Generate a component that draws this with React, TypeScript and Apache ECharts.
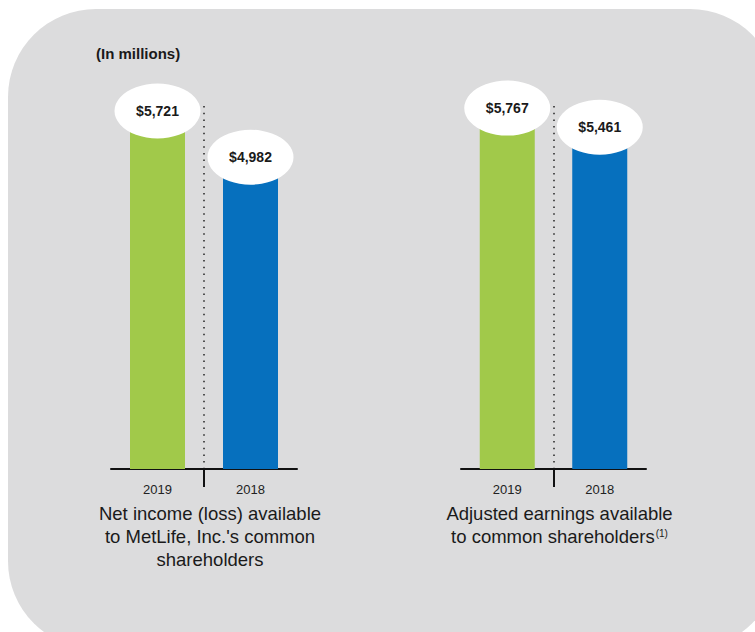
import React, { useEffect, useRef } from 'react';
import * as echarts from 'echarts';

const years = ['2019', '2018'];
const netIncome = [5721, 4982];
const adjustedEarnings = [5767, 5461];
const barColors = ['#a1c94a', '#0670be'];
const leftTitle = "Net income (loss) available\nto MetLife, Inc.'s common\nshareholders";
const rightTitle = 'Adjusted earnings available\nto common shareholders{sup|(1)}';
const unitNote = '(In millions)';
const valueMax = 5800;

const font = "'Liberation Sans', Arial, Helvetica, sans-serif";

function catAxis(gridIndex: number, name: string) {
  return {
    type: 'category',
    gridIndex,
    data: years,
    position: 'bottom',
    axisLine: { show: true, onZero: false, lineStyle: { color: '#111', width: 2 } },
    axisTick: { show: false },
    axisLabel: { fontSize: 13, color: '#222', margin: 14, fontFamily: font },
    splitLine: { show: false },
    name,
    nameLocation: 'middle',
    nameGap: 33,
    nameTextStyle: {
      fontSize: 18.5,
      lineHeight: 23,
      color: '#1a1a1a',
      fontFamily: font,
      padding: [0, 0, 0, 12],
      rich: {
        sup: { fontSize: 10, lineHeight: 23, verticalAlign: 'top', padding: [3, 0, 0, 1], color: '#1a1a1a', fontFamily: font },
      },
    },
  };
}

function sepAxis(gridIndex: number) {
  return {
    type: 'value',
    gridIndex,
    min: 0,
    max: 2,
    position: 'bottom',
    axisLine: { show: false, onZero: false },
    axisLabel: { show: false },
    axisTick: { show: true, customValues: [1], length: 18, lineStyle: { color: '#111', width: 2 } },
    splitLine: { show: true, lineStyle: { type: [1.5, 5.2], color: '#222', width: 1.5 } },
  };
}

function yAxis(gridIndex: number) {
  return { type: 'value', gridIndex, min: 0, max: valueMax, show: false };
}

function bars(xAxisIndex: number, yAxisIndex: number, values: number[]) {
  return {
    type: 'bar',
    xAxisIndex,
    yAxisIndex,
    barWidth: 55,
    data: values.map((v, i) => ({ value: v, itemStyle: { color: barColors[i] } })),
    z: 2,
  };
}

function bubbles(xAxisIndex: number, yAxisIndex: number, values: number[]) {
  return {
    type: 'scatter',
    xAxisIndex,
    yAxisIndex,
    symbol: 'circle',
    symbolSize: [86, 55],
    data: values,
    itemStyle: { color: '#ffffff', opacity: 1 },
    label: {
      show: true,
      position: 'inside',
      formatter: (p: any) => '$' + Number(p.value).toLocaleString('en-US'),
      fontSize: 14,
      fontWeight: 'bold',
      color: '#1a1a1a',
      fontFamily: font,
    },
    emphasis: { disabled: true },
    z: 5,
  };
}

export default function App() {
  const ref = useRef<HTMLDivElement>(null);
  useEffect(() => {
    if (!ref.current) return;
    const chart = echarts.init(ref.current, undefined, { renderer: 'svg' });
    chart.setOption({
      animation: false,
      title: {
        text: unitNote,
        left: 96,
        top: 46,
        padding: 0,
        textStyle: { fontSize: 15, fontWeight: 'bold', color: '#1a1a1a', fontFamily: font },
      },
      grid: [
        { left: 111, top: 106, width: 186, height: 363 },
        { left: 461, top: 106, width: 185, height: 363 },
      ],
      xAxis: [catAxis(0, leftTitle), catAxis(1, rightTitle), sepAxis(0), sepAxis(1)],
      yAxis: [yAxis(0), yAxis(1)],
      series: [
        bars(0, 0, netIncome),
        bars(1, 1, adjustedEarnings),
        bubbles(0, 0, netIncome),
        bubbles(1, 1, adjustedEarnings),
      ],
    });
    return () => chart.dispose();
  }, []);
  return (
    <div style={{ position: 'absolute', left: 0, top: 0, width: 755, height: 632, overflow: 'hidden', background: '#ffffff' }}>
      <div style={{ position: 'absolute', left: 8, top: 9, width: 770, height: 640, borderRadius: 88, background: '#dcdcdd' }} />
      <div ref={ref} style={{ position: 'absolute', left: 0, top: 0, width: 755, height: 632 }} />
    </div>
  );
}
